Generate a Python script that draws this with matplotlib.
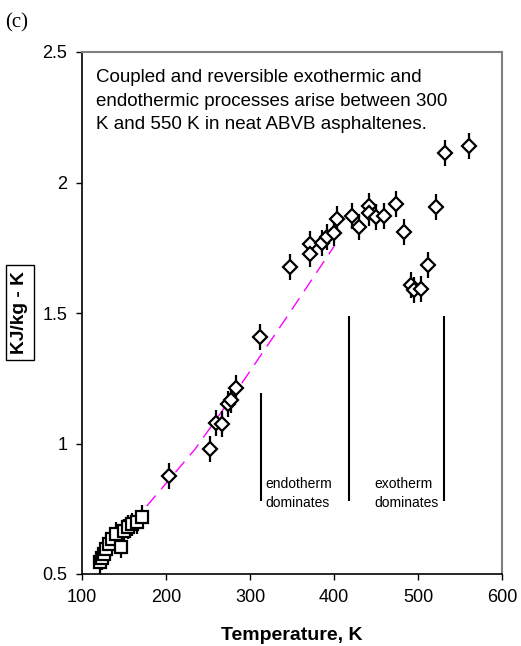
import numpy as np
import matplotlib.pyplot as plt

plt.rcParams['font.family'] = ['Liberation Sans', 'DejaVu Sans']

# low temperature runs (squares)
sq_T = [122, 124, 126, 129, 132, 136, 140, 146, 150, 155, 160, 165, 171]
sq_cp = [0.546, 0.56, 0.575, 0.595, 0.615, 0.635, 0.655, 0.605, 0.665, 0.68, 0.69, 0.70, 0.72]

# high temperature runs (diamonds)
dia_T = [203, 252, 259.5, 267, 274, 277, 283, 312, 347.6, 371.4, 371.4, 386, 392,
         400.4, 403, 422, 430, 442, 442, 450, 460, 474, 483, 492, 495, 503, 512,
         522, 532, 560.7]
dia_cp = [0.877, 0.98, 1.077, 1.075, 1.15, 1.165, 1.211, 1.409, 1.677, 1.764, 1.726,
          1.767, 1.79, 1.805, 1.86, 1.871, 1.828, 1.91, 1.884, 1.869, 1.873, 1.916,
          1.809, 1.607, 1.588, 1.592, 1.684, 1.905, 2.112, 2.14]
err = 0.05

# trend line
fit_T = [177, 235, 290, 345, 401]
fit_cp = [0.76, 0.98, 1.23, 1.49, 1.76]

# region markers
reg_T = [313, 418, 531]
reg_lo = [0.78, 0.78, 0.78]
reg_hi = [1.195, 1.49, 1.49]

fig = plt.figure(figsize=(5.21, 6.46), dpi=100)
ax = fig.add_axes([82/521, 72/646, 420/521, 522/646])

ax.plot(fit_T, fit_cp, color='#FF00FF', lw=1.0, dashes=(10, 6), zorder=1)
ax.vlines(reg_T, reg_lo, reg_hi, color='black', lw=1.5, zorder=1)

ax.errorbar(sq_T, sq_cp, yerr=0.045, fmt='s', ms=8, mfc='white', mec='black',
            mew=1.6, ecolor='black', elinewidth=1.6, capsize=0, zorder=3)
ax.errorbar(dia_T, dia_cp, yerr=err, fmt='D', ms=6.8, mfc='white', mec='black',
            mew=1.6, ecolor='black', elinewidth=1.6, capsize=0, zorder=3)

ax.set_xlim(100, 600)
ax.set_ylim(0.5, 2.5)
ax.set_xticks([100, 200, 300, 400, 500, 600])
ax.set_yticks([0.5, 1, 1.5, 2, 2.5])
ax.set_yticklabels(['0.5', '1', '1.5', '2', '2.5'])
ax.tick_params(axis='x', direction='out', length=4, width=1, labelsize=13, pad=7)
ax.tick_params(axis='y', direction='out', length=4.5, width=1, labelsize=13, pad=6)

for s in ['left', 'bottom']:
    ax.spines[s].set_color('black')
    ax.spines[s].set_linewidth(1.2)
for s in ['top', 'right']:
    ax.spines[s].set_color('#808080')
    ax.spines[s].set_linewidth(1.5)

ax.text(0.033, 0.906, 'Coupled and reversible exothermic and\n'
        'endothermic processes arise between 300\n'
        'K and 550 K in neat ABVB asphaltenes.',
        transform=ax.transAxes, ha='left', va='center', fontsize=13.5,
        linespacing=1.5)
ax.text(318, 0.808, 'endotherm\ndominates', ha='left', va='center', fontsize=10,
        linespacing=1.45)
ax.text(447.6, 0.808, 'exotherm\ndominates', ha='left', va='center', fontsize=10,
        linespacing=1.45)

fig.text(292/521, 1 - 635/646, 'Temperature, K', ha='center', va='center',
         fontsize=14, fontweight='bold')
fig.text(20/521, 1 - 312.5/646, 'KJ/kg - K', ha='center', va='center',
         rotation=90, fontsize=13.8, fontweight='bold',
         bbox=dict(boxstyle='square,pad=0.3', fc='white', ec='black', lw=1))
fig.text(5/521, 1 - 23/646, '(c)', ha='left', va='center', fontsize=15,
         family='Liberation Serif')

fig.savefig('out.png', dpi=100)
